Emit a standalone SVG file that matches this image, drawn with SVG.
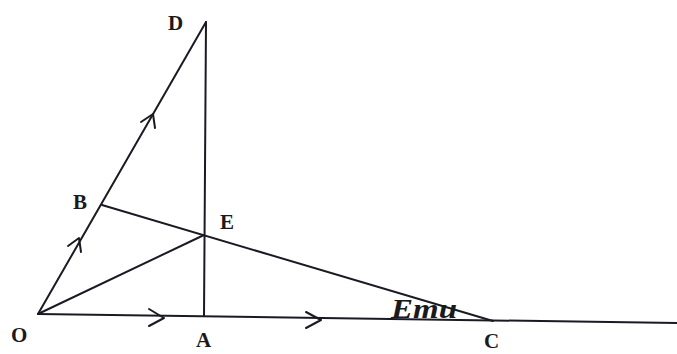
<svg xmlns="http://www.w3.org/2000/svg" width="677" height="354" viewBox="0 0 677 354">
<style>
.l{stroke:#1a1a24;stroke-width:2;fill:none;stroke-linecap:round}
.a{stroke:#1a1a24;stroke-width:2;fill:none;stroke-linecap:round;stroke-linejoin:round}
.t{font-family:"Liberation Serif","Times New Roman",serif;font-size:21px;font-weight:bold;fill:#1a1a1a}
</style>
<rect width="677" height="354" fill="#ffffff"/>
<g id="connectors">
<line class="l" x1="38" y1="314" x2="677" y2="323"/>
<line class="l" x1="38" y1="314" x2="206" y2="22"/>
<line class="l" x1="206" y1="22" x2="204" y2="316"/>
<line class="l" x1="102" y1="205" x2="493" y2="321"/>
<line class="l" x1="38" y1="314" x2="204" y2="235"/>
<path class="a" d="M149,309 L164,318 L149,326"/>
<path class="a" d="M306,312 L321,320 L306,328"/>
<path class="a" d="M68,246 L79,238 L81,252"/>
<path class="a" d="M141,122 L153,114 L155,128"/>
</g>
<g id="O"><text class="t" x="11" y="342">O</text></g>
<g id="A"><text class="t" x="196" y="347">A</text></g>
<g id="C"><text class="t" x="484" y="348">C</text></g>
<g id="D"><text class="t" x="168" y="30">D</text></g>
<g id="B"><text class="t" x="73" y="209">B</text></g>
<g id="E"><text class="t" x="220" y="229">E</text></g>
<g id="Emu"><text x="391" y="318" textLength="66" lengthAdjust="spacingAndGlyphs" style="font-family:'Liberation Serif','Times New Roman',serif;font-size:27px;font-style:italic;font-weight:bold;fill:#1a1a1a">Emu</text></g>
</svg>
